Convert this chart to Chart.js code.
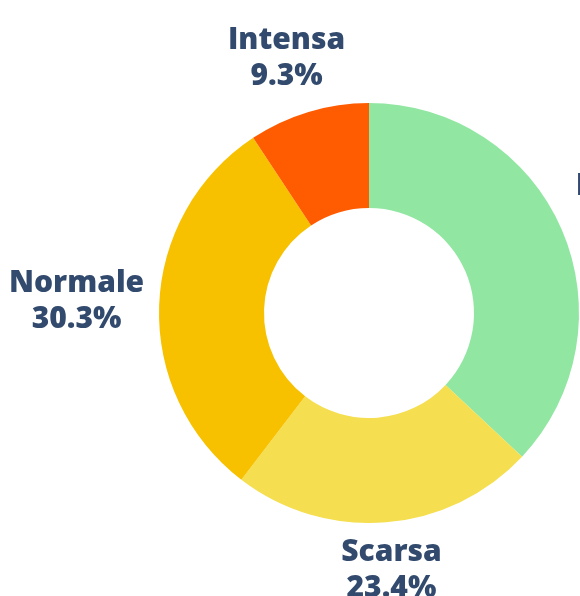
<!DOCTYPE html>
<html lang="it">
<head>
  <meta charset="UTF-8" />
  <title>Distribuzione</title>
  <script src="https://cdn.jsdelivr.net/npm/chart.js"></script>
  <style>
    html, body { margin: 0; padding: 0; background: #fff; overflow: hidden; }
    canvas { display: block; }
  </style>
</head>
<body>
  <canvas id="pieChart" width="738" height="626"></canvas>

  <script>
    // categorie e percentuali
    const categories = ['Nessuna', 'Scarsa', 'Normale', 'Intensa'];
    const percentages = [37.0, 23.4, 30.3, 9.3];
    const sliceColors = ['#91E7A2', '#F5DE4F', '#F8C100', '#FF5B00'];

    const labelFont = '800 30px "Open Sans"';
    const labelColor = '#324a6d';
    const lineHeight = 36;
    const labelPadding = 4;
    const labelOffset = 11;

    // etichette esterne: nome + percentuale, allineate all'esterno dello spicchio
    const outerLabels = {
      id: 'outerLabels',
      afterDatasetsDraw(chart) {
        const ctx = chart.ctx;
        const meta = chart.getDatasetMeta(0);
        ctx.save();
        ctx.font = labelFont;
        ctx.fillStyle = labelColor;
        ctx.textAlign = 'center';
        ctx.textBaseline = 'middle';
        meta.data.forEach((arc, i) => {
          const p = arc.getProps(['x', 'y', 'startAngle', 'endAngle', 'outerRadius'], true);
          const mid = (p.startAngle + p.endAngle) / 2;
          const vx = Math.cos(mid);
          const vy = Math.sin(mid);
          const lines = [categories[i], percentages[i].toFixed(1) + '%'];
          const w = Math.max(...lines.map(t => ctx.measureText(t).width)) + labelPadding * 2;
          const h = lines.length * lineHeight + labelPadding * 2;
          const vs = 1 / Math.max(Math.abs(vx), Math.abs(vy));
          const ax = p.x + vx * p.outerRadius;
          const ay = p.y + vy * p.outerRadius;
          const cx = ax + (w / 2) * vx * vs + labelOffset * vx;
          const cy = ay + (h / 2) * vy * vs + labelOffset * vy - 3;
          lines.forEach((t, k) => {
            ctx.fillText(t, cx, cy + (k - (lines.length - 1) / 2) * lineHeight);
          });
        });
        ctx.restore();
      }
    };

    new Chart(document.getElementById('pieChart'), {
      type: 'doughnut',
      data: {
        labels: categories,
        datasets: [{
          data: percentages,
          backgroundColor: sliceColors,
          borderWidth: 0
        }]
      },
      options: {
        responsive: false,
        animation: false,
        cutout: '50%',
        layout: { padding: { top: 103, bottom: 103, left: 159, right: 159 } },
        plugins: {
          legend: { display: false },
          tooltip: { enabled: false }
        }
      },
      plugins: [outerLabels]
    });
  </script>
</body>
</html>
